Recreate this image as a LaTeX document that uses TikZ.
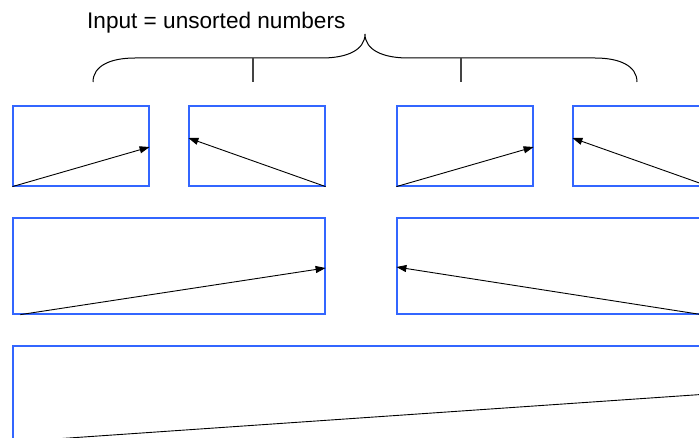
\documentclass[tikz,border=0pt]{standalone}
\usepackage{fontspec}
\setmainfont{Liberation Sans}
\usetikzlibrary{arrows.meta}
\definecolor{boxblue}{RGB}{51,102,255}
\definecolor{tickgray}{RGB}{68,68,68}
\tikzset{
  stepbox/.style={draw=boxblue, line width=1.2pt, inner sep=0pt, rectangle},
  sortarrow/.style={draw=black, line width=0.9pt, -{Triangle[length=10pt,width=7pt]}},
  bracepath/.style={draw=black, line width=1pt},
  tickline/.style={draw=tickgray, line width=1.1pt},
}
\begin{document}
\begin{tikzpicture}[x=1pt,y=-1pt]
\useasboundingbox (0,0) rectangle (699,438);
\clip (0,0) rectangle (699,438);

\node[anchor=base west, inner sep=0pt, font=\fontsize{22.6}{26}\selectfont] (title) at (87,29) {Input = unsorted numbers};

% brace
\draw[bracepath] (93,82) .. controls (93,66) and (110,58) .. (135,58) -- (322,58)
  .. controls (347,58) and (365,50) .. (365,34)
  .. controls (365,50) and (383,58) .. (408,58) -- (595,58)
  .. controls (620,58) and (637,66) .. (637,82);
\draw[tickline] (253,58) -- (253,82);
\draw[tickline] (461,58) -- (461,82);

% row 1
\node[stepbox, minimum width=136pt, minimum height=80pt] (a) at (81,146) {};
\node[stepbox, minimum width=136pt, minimum height=80pt] (b) at (257,146) {};
\node[stepbox, minimum width=136pt, minimum height=80pt] (c) at (465,146) {};
\node[stepbox, minimum width=136pt, minimum height=80pt] (d) at (641,146) {};
\draw[sortarrow] (a.south west) -- ([yshift=-1pt]a.east);
\draw[sortarrow] (b.south east) -- ([yshift=8pt]b.west);
\draw[sortarrow] (c.south west) -- ([yshift=-1pt]c.east);
\draw[sortarrow] (d.south east) -- ([yshift=8pt]d.west);

% row 2
\node[stepbox, minimum width=312pt, minimum height=96pt] (e) at (169,266) {};
\node[stepbox, minimum width=312pt, minimum height=96pt] (f) at (553,266) {};
\draw[sortarrow] ([xshift=8pt]e.south west) -- ([yshift=-2pt]e.east);
\draw[sortarrow] ([xshift=-8pt]f.south east) -- ([yshift=-1pt]f.west);

% row 3
\node[stepbox, minimum width=840pt, minimum height=120pt] (g) at (433,406) {};
\coordinate (gs) at (40,440);
\draw[sortarrow] (gs) -- ([yshift=22pt]g.east);
\end{tikzpicture}
\end{document}
